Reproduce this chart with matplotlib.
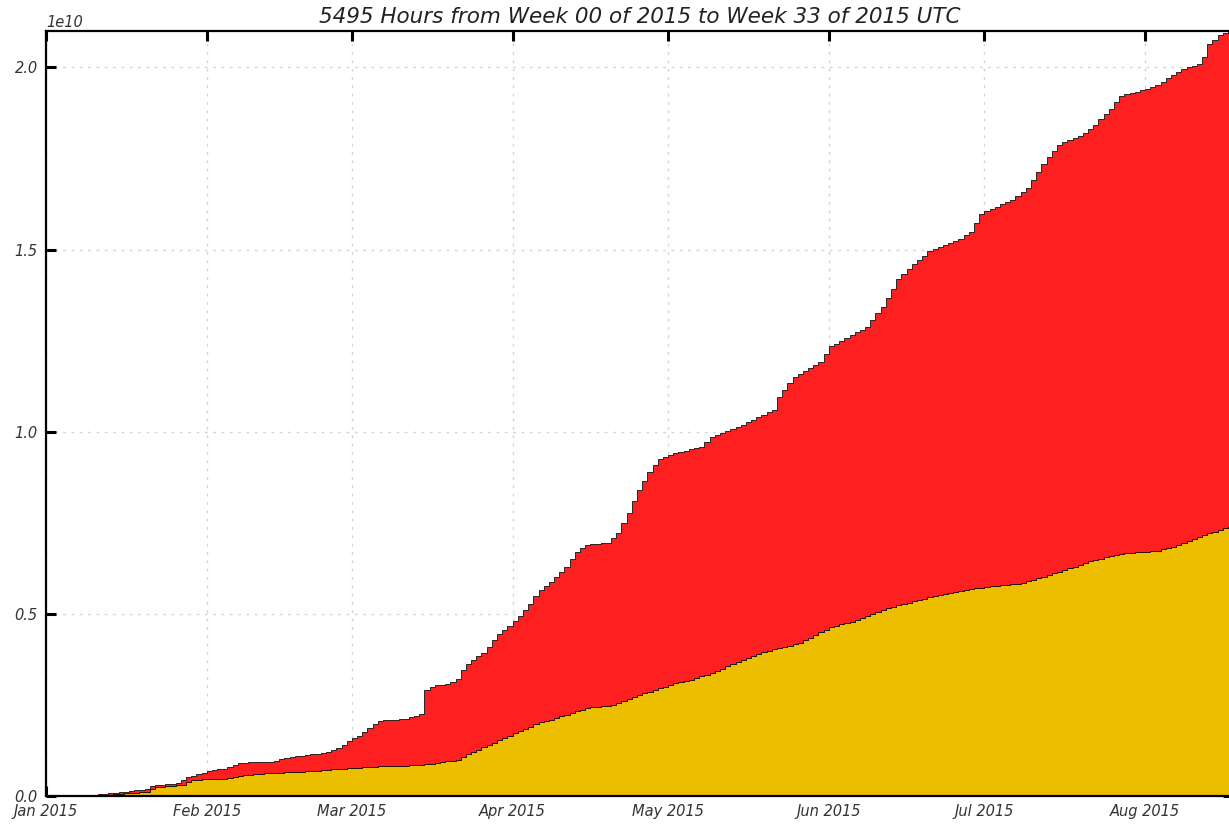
import datetime
import matplotlib
matplotlib.use("Agg")
import matplotlib.pyplot as plt
import matplotlib.dates as mdates
import numpy as np

# cumulative totals per day (units of 1e10), starting 2015-01-01
lower_vals = [
	0, 0, 0, 0, 0, 0, 0, 0, 0.001, 0.002,
	0.003, 0.003, 0.004, 0.005, 0.006, 0.007, 0.008, 0.009, 0.010, 0.011,
	0.020, 0.025, 0.026, 0.027, 0.028, 0.029, 0.030, 0.038, 0.044, 0.045,
	0.046, 0.046, 0.047, 0.048, 0.048, 0.049, 0.052, 0.055, 0.058, 0.059,
	0.060, 0.061, 0.062, 0.062, 0.063, 0.064, 0.065, 0.066, 0.066, 0.067,
	0.068, 0.069, 0.070, 0.071, 0.072, 0.073, 0.074, 0.075, 0.076, 0.077,
	0.078, 0.079, 0.080, 0.080, 0.081, 0.081, 0.082, 0.082, 0.083, 0.083,
	0.084, 0.084, 0.085, 0.087, 0.089, 0.091, 0.093, 0.095, 0.097, 0.099,
	0.106, 0.114, 0.121, 0.127, 0.134, 0.140, 0.146, 0.153, 0.159, 0.165,
	0.172, 0.178, 0.184, 0.190, 0.197, 0.203, 0.207, 0.210, 0.214, 0.219,
	0.223, 0.228, 0.233, 0.237, 0.242, 0.244, 0.245, 0.247, 0.248, 0.250,
	0.255, 0.261, 0.266, 0.272, 0.277, 0.282, 0.286, 0.291, 0.296, 0.300,
	0.305, 0.309, 0.312, 0.316, 0.319, 0.324, 0.329, 0.333, 0.338, 0.344,
	0.350, 0.356, 0.361, 0.367, 0.373, 0.379, 0.385, 0.390, 0.396, 0.399,
	0.403, 0.406, 0.410, 0.413, 0.417, 0.420, 0.427, 0.434, 0.442, 0.449,
	0.456, 0.464, 0.468, 0.472, 0.475, 0.479, 0.483, 0.489, 0.494, 0.500,
	0.505, 0.511, 0.515, 0.519, 0.523, 0.526, 0.530, 0.534, 0.538, 0.541,
	0.545, 0.548, 0.551, 0.555, 0.558, 0.561, 0.563, 0.565, 0.568, 0.570,
	0.572, 0.574, 0.576, 0.577, 0.579, 0.580, 0.582, 0.583, 0.585, 0.589,
	0.593, 0.598, 0.602, 0.607, 0.612, 0.616, 0.621, 0.626, 0.630, 0.635,
	0.639, 0.644, 0.648, 0.651, 0.655, 0.658, 0.662, 0.665, 0.666, 0.667,
	0.669, 0.670, 0.671, 0.672, 0.673, 0.677, 0.680, 0.684, 0.690, 0.695,
	0.701, 0.706, 0.712, 0.717, 0.721, 0.726, 0.730, 0.735, 0.739,
]
upper_vals = [
	0, 0, 0, 0, 0, 0, 0, 0, 0.001, 0.003,
	0.005, 0.006, 0.008, 0.009, 0.010, 0.012, 0.014, 0.016, 0.017, 0.019,
	0.027, 0.030, 0.031, 0.033, 0.034, 0.035, 0.045, 0.052, 0.055, 0.060,
	0.064, 0.068, 0.071, 0.073, 0.075, 0.080, 0.086, 0.090, 0.091, 0.092,
	0.093, 0.093, 0.094, 0.094, 0.095, 0.101, 0.105, 0.107, 0.109, 0.110,
	0.112, 0.114, 0.116, 0.118, 0.122, 0.127, 0.133, 0.141, 0.150, 0.158,
	0.165, 0.176, 0.187, 0.198, 0.205, 0.208, 0.210, 0.210, 0.211, 0.211,
	0.216, 0.220, 0.225, 0.290, 0.300, 0.305, 0.306, 0.307, 0.313, 0.320,
	0.345, 0.362, 0.373, 0.383, 0.393, 0.410, 0.428, 0.445, 0.457, 0.468,
	0.480, 0.495, 0.510, 0.528, 0.548, 0.566, 0.577, 0.588, 0.602, 0.615,
	0.629, 0.650, 0.670, 0.682, 0.690, 0.692, 0.693, 0.694, 0.695, 0.708,
	0.722, 0.750, 0.777, 0.809, 0.841, 0.866, 0.890, 0.908, 0.925, 0.931,
	0.937, 0.941, 0.945, 0.948, 0.952, 0.955, 0.959, 0.972, 0.985, 0.991,
	0.996, 1.002, 1.008, 1.013, 1.019, 1.026, 1.033, 1.040, 1.046, 1.053,
	1.060, 1.096, 1.114, 1.133, 1.151, 1.159, 1.167, 1.176, 1.184, 1.192,
	1.213, 1.234, 1.242, 1.250, 1.258, 1.266, 1.273, 1.280, 1.288, 1.306,
	1.325, 1.343, 1.368, 1.393, 1.418, 1.432, 1.446, 1.460, 1.472, 1.483,
	1.495, 1.501, 1.507, 1.513, 1.518, 1.524, 1.530, 1.540, 1.549, 1.574,
	1.599, 1.605, 1.612, 1.618, 1.624, 1.631, 1.637, 1.647, 1.658, 1.668,
	1.691, 1.713, 1.736, 1.753, 1.771, 1.788, 1.794, 1.800, 1.807, 1.813,
	1.819, 1.831, 1.843, 1.858, 1.872, 1.887, 1.905, 1.922, 1.926, 1.930,
	1.933, 1.937, 1.941, 1.946, 1.951, 1.960, 1.970, 1.978, 1.987, 1.995,
	2.000, 2.005, 2.010, 2.030, 2.063, 2.076, 2.088, 2.095, 2.100,
]
start = datetime.datetime(2015, 1, 1)
n_hours = 5495
title = "5495 Hours from Week 00 of 2015 to Week 33 of 2015 UTC"

plt.rcParams['font.family'] = ['DejaVu Sans']
plt.rcParams['font.style'] = 'italic'
plt.rcParams['text.color'] = '#333333'

end = start + datetime.timedelta(hours=n_hours)
days = [start + datetime.timedelta(days=i) for i in range(len(upper_vals))] + [end]
lower = np.array(lower_vals + [lower_vals[-1]]) * 1e10
upper = np.array(upper_vals + [upper_vals[-1]]) * 1e10

fig = plt.figure(figsize=(12.29, 8.26), dpi=100)
ax = fig.add_axes([46/1229, 30/826, (1233-46)/1229, (796-31)/826])

ax.fill_between(days, 0, lower, step='post', facecolor='#ebbf00',
	edgecolor='#111111', linewidth=0.6, zorder=2)
ax.fill_between(days, lower, upper, step='post', facecolor='#fe2020',
	edgecolor='#111111', linewidth=0.6, zorder=2)

ax.set_xlim(start, end)
ax.set_ylim(0, 2.1e10)
ax.set_yticks([0, 0.5e10, 1.0e10, 1.5e10, 2.0e10])
ax.xaxis.set_major_locator(mdates.MonthLocator())
ax.xaxis.set_major_formatter(mdates.DateFormatter('%b %Y'))

ax.grid(True, linestyle=(0, (2, 4)), color='#d4d4d4', linewidth=1.0, zorder=1)
ax.set_axisbelow(True)
ax.tick_params(direction='in', length=7, width=2.2, color='black',
	top=True, right=True, labelsize=10.5, labelcolor='#333333')
ax.tick_params(axis='x', pad=6)
ax.tick_params(axis='y', pad=6)
for s in ax.spines.values():
	s.set_linewidth(1.6)
	s.set_color('black')
ax.yaxis.get_offset_text().set_fontsize(10.5)
ax.yaxis.get_offset_text().set_style('italic')

ax.set_title(title, fontsize=15.5, style='italic', color='#222222', pad=6)

fig.savefig('out.png', dpi=100)
